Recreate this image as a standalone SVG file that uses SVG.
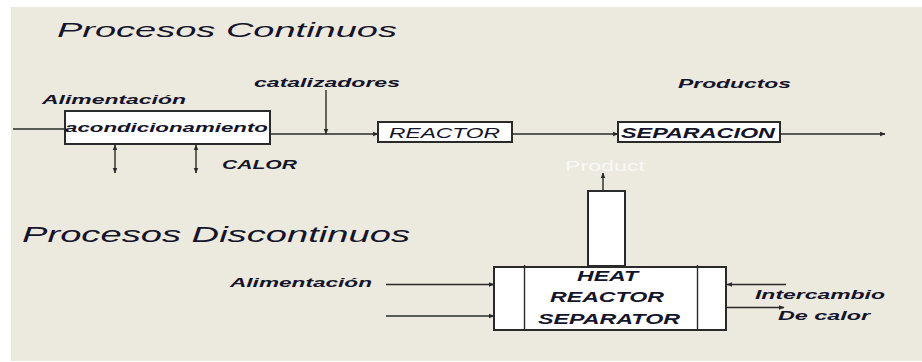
<svg xmlns="http://www.w3.org/2000/svg" width="922" height="362" viewBox="0 0 922 362">
<style>
  .t { font-family: "Liberation Sans", Arial, sans-serif; fill: #14142a; font-style: italic; }
  .b { font-weight: bold; }
  .box { fill: #ffffff; stroke: #2a2a2a; stroke-width: 2; }
  .ln { stroke: #2a2a2a; stroke-width: 1.4; fill: none; }
</style>
<defs>
  <marker id="ah" viewBox="0 0 10 10" refX="9" refY="5" markerWidth="6" markerHeight="6" markerUnits="userSpaceOnUse" orient="auto-start-reverse">
    <path d="M0,1 L10,5 L0,9 z" fill="#2a2a2a"/>
  </marker>
</defs>
<rect x="0" y="0" width="922" height="362" fill="#ffffff"/>
<rect x="11" y="7" width="911" height="354" fill="#ECE9DF"/>

<text class="t" x="57" y="37" font-size="21" textLength="340" lengthAdjust="spacingAndGlyphs">Procesos Continuos</text>
<text class="t" x="22" y="242" font-size="22" textLength="388" lengthAdjust="spacingAndGlyphs">Procesos Discontinuos</text>

<g id="connectors">
  <line class="ln" x1="13" y1="129" x2="79" y2="129" marker-end="url(#ah)"/>
  <line class="ln" x1="270" y1="134" x2="378" y2="134" marker-end="url(#ah)"/>
  <line class="ln" x1="326" y1="90" x2="326" y2="134" marker-end="url(#ah)"/>
  <line class="ln" x1="115" y1="145" x2="115" y2="173" marker-start="url(#ah)" marker-end="url(#ah)"/>
  <line class="ln" x1="196" y1="145" x2="196" y2="173" marker-start="url(#ah)" marker-end="url(#ah)"/>
  <line class="ln" x1="512" y1="134" x2="618" y2="134" marker-end="url(#ah)"/>
  <line class="ln" x1="781" y1="134" x2="885" y2="134" marker-end="url(#ah)"/>
  <line class="ln" x1="603" y1="191" x2="603" y2="173" marker-end="url(#ah)"/>
  <line class="ln" x1="386" y1="284.5" x2="494" y2="284.5" marker-end="url(#ah)"/>
  <line class="ln" x1="386" y1="316" x2="494" y2="316" marker-end="url(#ah)"/>
  <line class="ln" x1="786" y1="284.5" x2="727" y2="284.5" marker-end="url(#ah)"/>
  <line class="ln" x1="727" y1="307.5" x2="784" y2="307.5" marker-end="url(#ah)"/>
</g>

<g id="acondicionamiento">
  <rect class="box" x="65" y="111" width="205" height="33"/>
  <text class="t b" x="65" y="132" font-size="13.5" textLength="203" lengthAdjust="spacingAndGlyphs">acondicionamiento</text>
</g>
<g id="alimentacion-top">
  <text class="t b" x="42" y="104" font-size="13.5" textLength="144" lengthAdjust="spacingAndGlyphs">Alimentación</text>
</g>
<g id="catalizadores">
  <text class="t b" x="254" y="87" font-size="13.5" textLength="146" lengthAdjust="spacingAndGlyphs">catalizadores</text>
</g>
<g id="calor">
  <text class="t b" x="222" y="168.5" font-size="13" textLength="75" lengthAdjust="spacingAndGlyphs">CALOR</text>
</g>
<g id="reactor">
  <rect class="box" x="378" y="122" width="134" height="20"/>
  <text class="t" x="389" y="138" font-size="14" textLength="111" lengthAdjust="spacingAndGlyphs">REACTOR</text>
</g>
<g id="separacion">
  <rect class="box" x="618" y="122" width="162" height="20"/>
  <text class="t b" x="621" y="138" font-size="14" textLength="154" lengthAdjust="spacingAndGlyphs">SEPARACION</text>
</g>
<g id="productos">
  <text class="t b" x="678" y="88" font-size="13.5" textLength="113" lengthAdjust="spacingAndGlyphs">Productos</text>
</g>
<g id="product">
  <text x="565" y="170.5" font-size="14" font-family="Liberation Sans, Arial, sans-serif" fill="#f8f8f6" textLength="80" lengthAdjust="spacingAndGlyphs">Product</text>
</g>
<g id="column">
  <rect class="box" x="588" y="191" width="37" height="75"/>
</g>
<g id="heat-reactor-separator">
  <rect class="box" x="494" y="267" width="232" height="63"/>
  <line class="ln" x1="524.5" y1="265" x2="524.5" y2="330" stroke-width="2"/>
  <line class="ln" x1="697.5" y1="265" x2="697.5" y2="330" stroke-width="2"/>
  <text class="t b" x="577" y="281" font-size="14.5" textLength="61" lengthAdjust="spacingAndGlyphs">HEAT</text>
  <text class="t b" x="550" y="302" font-size="14.5" textLength="114" lengthAdjust="spacingAndGlyphs">REACTOR</text>
  <text class="t b" x="538" y="323.5" font-size="14.5" textLength="142" lengthAdjust="spacingAndGlyphs">SEPARATOR</text>
</g>
<g id="alimentacion-bottom">
  <text class="t b" x="230" y="287" font-size="13.5" textLength="142" lengthAdjust="spacingAndGlyphs">Alimentación</text>
</g>
<g id="intercambio">
  <text class="t b" x="755" y="298.5" font-size="13.5" textLength="130" lengthAdjust="spacingAndGlyphs">Intercambio</text>
  <text class="t b" x="778" y="319.5" font-size="13.5" textLength="92" lengthAdjust="spacingAndGlyphs">De calor</text>
</g>
</svg>
